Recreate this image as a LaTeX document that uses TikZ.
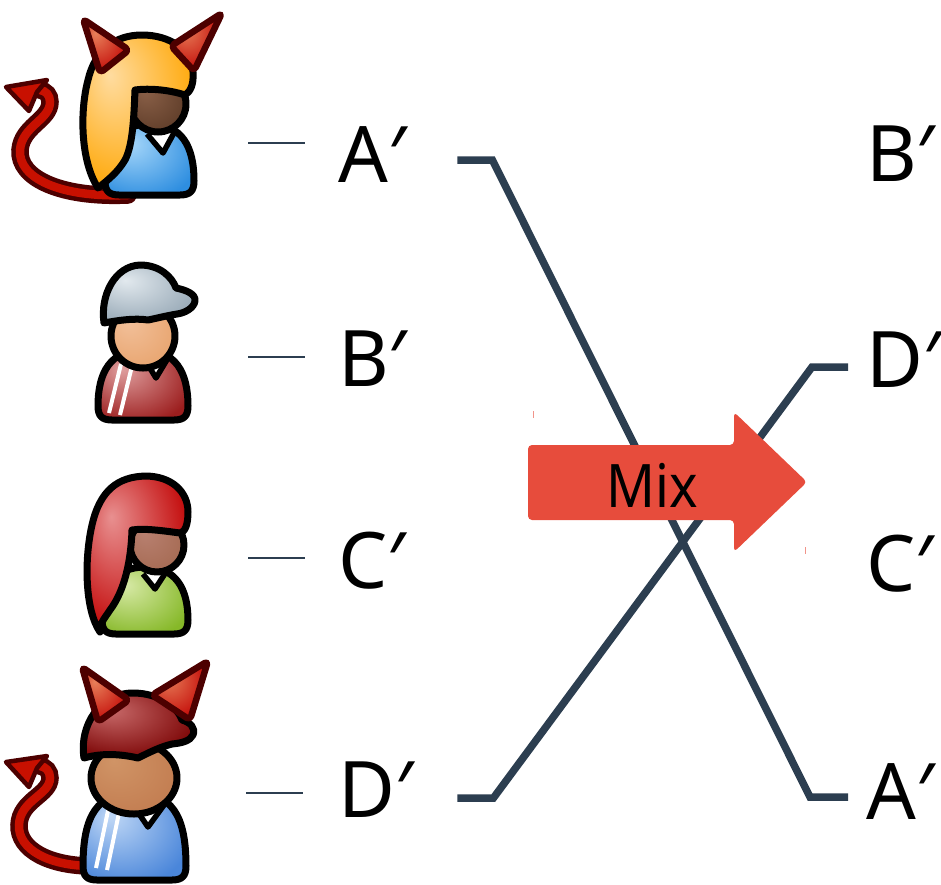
\documentclass[tikz,border=0pt]{standalone}
\usepackage{fontspec}
\setmainfont{Noto Sans}
\newfontfamily\mixfont{Noto Sans}[FakeStretch=0.9]
\definecolor{slate}{HTML}{2C3E50}
\definecolor{mixred}{HTML}{E74C3C}
\definecolor{hornedge}{HTML}{4D0000}
\definecolor{tailred}{HTML}{C81000}
\definecolor{hornred}{HTML}{C00000}
\definecolor{hornlight}{HTML}{E8805A}
\colorlet{glosslight}{white}
\colorlet{glossdark}{gray}
% glossy radial fill with the highlight towards the upper left
\pgfdeclareradialshading[glosslight,glossdark]{gloss}{\pgfpoint{-12bp}{12bp}}{%
  color(0bp)=(glosslight); color(34bp)=(glossdark); color(60bp)=(glossdark)}
\tikzset{
  gloss/.style 2 args={/utils/exec={\definecolor{glosslight}{HTML}{#1}\definecolor{glossdark}{HTML}{#2}},
    shading=gloss, draw=black, line width=7pt, line join=round},
  collar/.style={fill=white, draw=black, line width=5.5pt, line join=round},
  stripe/.style={draw=white, line width=4pt},
  horn/.style={/utils/exec={\colorlet{glosslight}{hornlight}\colorlet{glossdark}{hornred}},
    shading=gloss, draw=hornedge, line width=6.5pt, rounded corners=4pt, line join=round},
  devtail/.style={draw=hornedge, line width=4.5pt, double=tailred, double distance=8.5pt, line cap=round},
  tailhead/.style={fill=tailred, draw=hornedge, line width=4.5pt, line join=round},
  lbl/.style={anchor=west, inner sep=0pt, text width=66pt, text height=55pt, text depth=0pt,
    font=\fontsize{78}{80}\selectfont},
  tick/.style={draw=slate, line width=2pt},
  wire/.style={draw=slate, line width=7.5pt, line join=miter},
  mixarrow/.style={fill=mixred, rounded corners=4pt},
}
% bell shaped torso: #1 style, #2 left, #3 right, #4 top, #5 bottom
\newcommand{\torso}[5]{%
  \path[#1] (#2,{#5-14}) .. controls (#2,{#4+22}) and ({(#2+#3)/2-0.36*(#3-#2)},#4) .. ({(#2+#3)/2},#4)
    .. controls ({(#2+#3)/2+0.36*(#3-#2)},#4) and (#3,{#4+22}) .. (#3,{#5-14})
    .. controls (#3,{#5-4}) and ({#3-4},#5) .. ({#3-14},#5) -- ({#2+14},#5)
    .. controls ({#2+4},#5) and (#2,{#5-4}) .. cycle;}
\begin{document}
\begin{tikzpicture}[x=1pt,y=-1pt]
\useasboundingbox (0,0) rectangle (941,884);

% ---------- devil with orange hair ----------
\draw[devtail] (128,195) .. controls (60,198) and (18,178) .. (20,150)
  .. controls (22,126) and (50,120) .. (50,102) .. controls (50,95) and (46,91) .. (40,90);
\filldraw[tailhead] (6,87) -- (47,80) -- (37,92) -- (29,111) -- cycle;
\torso{gloss={A8D8FA}{2E8EE0}}{105}{194}{124}{195}
\path[collar] (147,134) -- (163,153) -- (175,131);
\path[gloss={8A6048}{5E3C28}] (158,104) circle[radius=28];
\path[gloss={FFDCA0}{FFA500}] (98,188) .. controls (80,160) and (80,110) .. (88,80)
  .. controls (95,50) and (115,35) .. (142,35) .. controls (170,35) and (192,50) .. (193,72)
  .. controls (194,85) and (190,92) .. (185,95) .. controls (170,90) and (150,88) .. (135,90)
  .. controls (134,115) and (133,145) .. (125,160) .. controls (118,172) and (108,180) .. (98,188) -- cycle;
\path[horn] (83,19) -- (100,73) -- (129,50) -- cycle;
\path[horn] (222,13) -- (171,46) -- (194,71) -- cycle;

% ---------- boy with grey cap ----------
\torso{gloss={E0A0A0}{9C1E1E}}{98}{188}{350}{420}
\draw[stripe] (121,364) -- (109,413);
\draw[stripe] (132,366) -- (120,415);
\path[collar] (145,360) -- (156,378) -- (168,358);
\path[gloss={F2C09A}{E8A46E}] (143,336) circle[radius=32];
\path[gloss={E2E9EE}{94A6B4}] (104,323) .. controls (100,295) and (115,266) .. (140,265)
  .. controls (160,265) and (172,277) .. (176,288) .. controls (186,290) and (196,294) .. (195,301)
  .. controls (194,308) and (185,313) .. (177,314) .. controls (165,316) and (158,318) .. (148,320)
  .. controls (135,318) and (120,320) .. (104,323) -- cycle;

% ---------- girl with red hair ----------
\torso{gloss={D8EAA8}{86B828}}{102}{188}{567}{634}
\path[collar] (143,574) -- (155,589) -- (168,569);
\path[gloss={B88070}{A56A52}] (157,545) circle[radius=27];
\path[gloss={E89090}{C00000}] (100,632) .. controls (85,610) and (84,560) .. (92,525)
  .. controls (100,490) and (118,477) .. (145,476) .. controls (172,476) and (188,492) .. (188,512)
  .. controls (188,525) and (185,532) .. (180,533) .. controls (165,531) and (145,528) .. (132,530)
  .. controls (131,560) and (125,590) .. (110,610) .. controls (105,618) and (100,622) .. (100,632) -- cycle;

% ---------- devil with red cap ----------
\draw[devtail] (92,866) .. controls (50,866) and (18,850) .. (19,825)
  .. controls (20,800) and (50,795) .. (50,778) .. controls (50,771) and (46,767) .. (40,766);
\filldraw[tailhead] (6,762) -- (47,756) -- (37,768) -- (29,787) -- cycle;
\torso{gloss={C0D8F6}{4A86DA}}{83}{186}{793}{880}
\draw[stripe] (109,806) -- (96,868);
\draw[stripe] (120,808) -- (107,870);
\path[collar] (133,805) -- (148,827) -- (164,805);
\path[gloss={D09466}{C27C50}] (134,778) circle[x radius=43, y radius=36];
\path[gloss={C86A6A}{780000}] (84,758) .. controls (79,725) and (100,693) .. (133,693)
  .. controls (160,693) and (178,708) .. (182,720) .. controls (190,722) and (196,728) .. (193,735)
  .. controls (190,741) and (182,743) .. (172,744) .. controls (160,747) and (150,752) .. (138,758)
  .. controls (125,755) and (105,752) .. (84,758) -- cycle;
\path[horn] (82,667) -- (98,722) -- (129,700) -- cycle;
\path[horn] (208,661) -- (152,695) -- (190,720) -- cycle;

% ---------- labels ----------
\node[lbl] (la) at (338,155) {A′};
\node[lbl] (lb) at (338,359) {B′};
\node[lbl] (lc) at (338,561) {C′};
\node[lbl] (ld) at (338,790) {D′};
\node[lbl] (rb) at (866,154) {B′};
\node[lbl] (rd) at (866,360) {D′};
\node[lbl] (rc) at (866,564) {C′};
\node[lbl] (ra) at (866,792) {A′};

\draw[tick] ([xshift=-90pt,yshift=12pt]la.west) -- ([xshift=-33pt,yshift=12pt]la.west);
\draw[tick] ([xshift=-90pt,yshift=2pt]lb.west) -- ([xshift=-33pt,yshift=2pt]lb.west);
\draw[tick] ([xshift=-90pt,yshift=3pt]lc.west) -- ([xshift=-33pt,yshift=3pt]lc.west);
\draw[tick] ([xshift=-92pt,yshift=-3pt]ld.west) -- ([xshift=-35pt,yshift=-3pt]ld.west);

% ---------- swapped connections ----------
\draw[wire] ([xshift=53pt,yshift=-5pt]la.east) -- ++(35,0)
  -- ([xshift=-56pt,yshift=-5pt]ra.west) -- ([xshift=-18pt,yshift=-5pt]ra.west);
\draw[wire] ([xshift=53pt,yshift=-8pt]ld.east) -- ++(36,0)
  -- ([xshift=-54pt,yshift=-7pt]rd.west) -- ([xshift=-18pt,yshift=-7pt]rd.west);

% ---------- mix arrow ----------
\path[mixarrow] (528,445) -- (734,445) -- (734,412) -- (807,482) -- (734,552) -- (734,520) -- (528,520) -- cycle;
\node[inner sep=0pt, font=\mixfont\fontsize{60}{60}\selectfont] (mix) at (652,485) {Mix};
\draw[mixred!60!white, line width=1pt] (533,411) -- (533,418);
\draw[mixred!60!white, line width=1pt] (805,547) -- (805,554);
\end{tikzpicture}
\end{document}
